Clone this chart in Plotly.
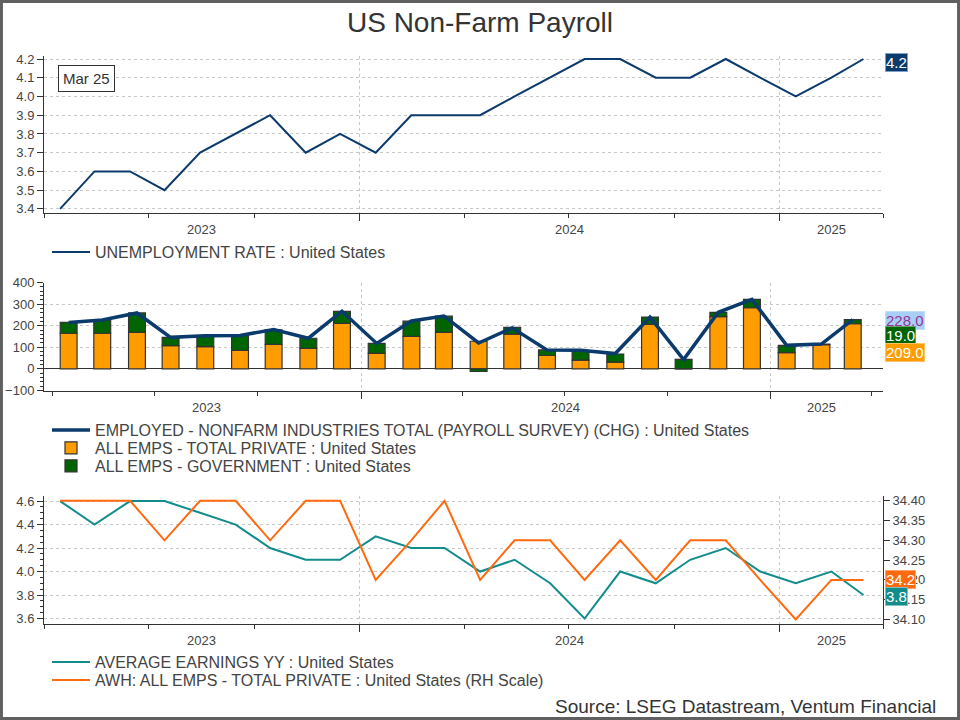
import plotly.graph_objects as go
import pandas as pd

# --- data (monthly, Apr 2023 - Mar 2025, plotted mid-month) ---
months = ["2023-04-15", "2023-05-15", "2023-06-15", "2023-07-15", "2023-08-15", "2023-09-15",
          "2023-10-15", "2023-11-15", "2023-12-15", "2024-01-15", "2024-02-15", "2024-03-15",
          "2024-04-15", "2024-05-15", "2024-06-15", "2024-07-15", "2024-08-15", "2024-09-15",
          "2024-10-15", "2024-11-15", "2024-12-15", "2025-01-15", "2025-02-15", "2025-03-15"]

unemployment = [3.4, 3.6, 3.6, 3.5, 3.7, 3.8, 3.9, 3.7, 3.8, 3.7, 3.9, 3.9,
                3.9, 4.0, 4.1, 4.2, 4.2, 4.1, 4.1, 4.2, 4.1, 4.0, 4.1, 4.2]

payroll_total = [215, 226, 259, 146, 154, 155, 182, 142, 267, 118, 222, 245,
                 120, 190, 88, 86, 71, 240, 43, 262, 322, 109, 115, 228]
private = [165, 165, 169, 108, 103, 86, 114, 95, 211, 72, 151, 169,
           128, 161, 62, 41, 31, 207, 0, 242, 283, 75, 112, 209]
government = [50, 61, 90, 38, 51, 69, 67, 47, 55, 46, 70, 75,
              -12, 31, 26, 44, 38, 33, 44, 20, 39, 34, 3, 19]

avg_earnings_yy = [4.6, 4.4, 4.6, 4.6, 4.5, 4.4, 4.2, 4.1, 4.1, 4.3, 4.2, 4.2,
                   4.0, 4.1, 3.9, 3.6, 4.0, 3.9, 4.1, 4.2, 4.0, 3.9, 4.0, 3.8]
avg_weekly_hours = [34.4, 34.4, 34.4, 34.3, 34.4, 34.4, 34.3, 34.4, 34.4, 34.2, 34.3, 34.4,
                    34.2, 34.3, 34.3, 34.2, 34.3, 34.2, 34.3, 34.3, 34.2, 34.1, 34.2, 34.2]

years = [2023, 2024, 2025]
period_start, period_end = "2023-04-01", "2025-04-01"

# --- styling ---
W, H = 960, 720
FONT = "Arial, Liberation Sans, sans-serif"
TXT = "#444444"
AX = "#333333"
GRID = "#c8c8c8"
NAVY = "#0b3a6c"
BAR_ORANGE = "#ff9c00"
BAR_GREEN = "#006400"
TEAL = "#138c8c"
ORANGE = "#ff6a10"


def px_x(px):
    return px / W


def px_y(py):
    return 1 - py / H


X_DOMAIN = [px_x(44), px_x(883)]

fig = go.Figure()

# panel 1: unemployment rate
fig.add_trace(go.Scatter(x=months, y=unemployment, mode="lines", line=dict(color=NAVY, width=2),
                         name="UNEMPLOYMENT RATE : United States", xaxis="x", yaxis="y",
                         legend="legend"))

# panel 2: payrolls (bars first so the line is drawn on top)
fig.add_trace(go.Bar(x=months, y=private, marker=dict(color=BAR_ORANGE, line=dict(color=AX, width=1.2)),
                     width=1.3e9, name="ALL EMPS - TOTAL PRIVATE : United States",
                     xaxis="x2", yaxis="y2", legend="legend3"))
fig.add_trace(go.Bar(x=months, y=government, marker=dict(color=BAR_GREEN, line=dict(color=AX, width=1.2)),
                     width=1.3e9, name="ALL EMPS - GOVERNMENT : United States",
                     xaxis="x2", yaxis="y2", legend="legend4"))
fig.add_trace(go.Scatter(x=months, y=payroll_total, mode="lines", line=dict(color=NAVY, width=3.5),
                         name="EMPLOYED - NONFARM INDUSTRIES TOTAL (PAYROLL SURVEY) (CHG) : United States",
                         xaxis="x2", yaxis="y2", legend="legend2"))

# panel 3: earnings and hours
fig.add_trace(go.Scatter(x=months, y=avg_earnings_yy, mode="lines", line=dict(color=TEAL, width=2),
                         name="AVERAGE EARNINGS YY : United States", xaxis="x3", yaxis="y3",
                         legend="legend5"))
fig.add_trace(go.Scatter(x=months, y=avg_weekly_hours, mode="lines", line=dict(color=ORANGE, width=2),
                         name="AWH: ALL EMPS - TOTAL PRIVATE : United States (RH Scale)",
                         xaxis="x3", yaxis="y6", legend="legend6"))


def x_axis(anchor, rng):
    return dict(domain=X_DOMAIN, anchor=anchor, type="date", range=rng, automargin=False,
                showline=True, linecolor=AX, linewidth=1,
                ticks="outside", ticklen=7, tickcolor=AX, tick0="2024-01-01", dtick="M12",
                showticklabels=False, showgrid=True, gridcolor=GRID, griddash="dot", gridwidth=1,
                minor=dict(ticks="outside", ticklen=4, tickcolor=AX, dtick="M3", tick0="2023-01-01",
                           showgrid=False),
                zeroline=False, fixedrange=True)


def y_axis(top, bottom, rng, dtick, tick0, fmt, side="left", grid=True, minor=None, **kw):
    d = dict(domain=[px_y(bottom), px_y(top)], range=rng, dtick=dtick, tick0=tick0, automargin=False,
             tickformat=fmt, side=side, showline=True, linecolor=AX, linewidth=1,
             ticks="outside", ticklen=6, tickcolor=AX,
             tickfont=dict(family=FONT, size=13, color=TXT),
             showgrid=grid, gridcolor=GRID, griddash="dot", gridwidth=1,
             zeroline=False, fixedrange=True)
    if minor:
        d["minor"] = dict(ticks="outside", ticklen=3, tickcolor=AX, dtick=minor, showgrid=False)
    d.update(kw)
    return d


P1 = (56, 213)
P2 = (282.5, 390.5)
P3 = (496, 623.7)

fig.update_layout(
    width=W, height=H,
    margin=dict(l=0, r=0, t=0, b=0, autoexpand=False),
    paper_bgcolor="white", plot_bgcolor="white",
    font=dict(family=FONT, color=TXT),
    barmode="relative", bargap=0.5,
    showlegend=True,
    title=dict(text="US Non-Farm Payroll", x=0.5, xanchor="center", y=px_y(22), yanchor="middle",
               font=dict(family=FONT, size=28, color="#333333")),
    xaxis=x_axis("y", [period_start, period_end]),
    xaxis2=x_axis("y2", ["2023-03-24", "2025-04-11"]),
    xaxis3=x_axis("y3", [period_start, period_end]),
    yaxis=y_axis(*P1, [3.378, 4.216], 0.1, 3.4, ".1f", anchor="x"),
    yaxis4=y_axis(*P1, [3.378, 4.216], 0.1, 3.4, ".1f", side="right", grid=False,
                  anchor="x", overlaying="y"),
    yaxis2=y_axis(*P2, [-100, 400], 100, 0, "d", minor=20, anchor="x2",
                  zeroline=True, zerolinecolor=AX, zerolinewidth=1),
    yaxis5=y_axis(*P2, [-100, 400], 100, 0, "d", side="right", grid=False, minor=20,
                  anchor="x2", overlaying="y2"),
    yaxis3=y_axis(*P3, [3.556, 4.643], 0.2, 3.6, ".1f", minor=0.05, anchor="x3"),
    yaxis6=y_axis(*P3, [34.0894, 34.412], 0.05, 34.1, ".2f", side="right", grid=False,
                  anchor="x3", overlaying="y3"),
)

# one legend per entry so each row sits where the reference puts it
legend_rows = {"legend": 252, "legend2": 430, "legend3": 448, "legend4": 466,
               "legend5": 662, "legend6": 680}
for key, row in legend_rows.items():
    fig.update_layout({key: dict(x=px_x(47), xanchor="left", y=px_y(row), yanchor="middle",
                                 itemwidth=38, bgcolor="rgba(0,0,0,0)", borderwidth=0,
                                 itemclick=False, font=dict(family=FONT, size=16, color=TXT))})

annotations = []

# year labels, centred on the visible part of each year
label_rows = {"x": 230, "x2": 407, "x3": 640}
for year in years:
    a = max(pd.Timestamp(f"{year}-01-01"), pd.Timestamp(period_start))
    b = min(pd.Timestamp(f"{year + 1}-01-01"), pd.Timestamp(period_end))
    mid = (a + (b - a) / 2).strftime("%Y-%m-%d")
    for xref, row in label_rows.items():
        annotations.append(dict(x=mid, xref=xref, y=px_y(row), yref="paper", yanchor="middle",
                                xanchor="center", text=str(year), showarrow=False,
                                font=dict(family=FONT, size=13, color=TXT)))

# date box
annotations.append(dict(x=px_x(86), y=px_y(78), xref="paper", yref="paper", xanchor="center",
                        yanchor="middle", text="Mar 25", showarrow=False, bgcolor="white",
                        bordercolor=AX, borderwidth=1, borderpad=4,
                        font=dict(family=FONT, size=15, color="#333333")))


def last_label(value, yref, bg, border, fg, yshift=0):
    return dict(x=px_x(885), xref="paper", xanchor="left", y=value, yref=yref, yanchor="middle",
                yshift=yshift, text=f"{value:.1f}", showarrow=False, bgcolor=bg,
                bordercolor=border, borderwidth=1, borderpad=0,
                font=dict(family=FONT, size=15, color=fg))


annotations += [
    last_label(unemployment[-1], "y", NAVY, "#7fa3c8", "white", -4),
    last_label(float(payroll_total[-1]), "y2", "#a8cff5", "#c6e0fa", "#993399", -1),
    last_label(float(government[-1]), "y2", BAR_GREEN, "#66a366", "white", 29),
    last_label(float(private[-1]), "y2", BAR_ORANGE, "#ffc266", "white", -29),
    last_label(avg_weekly_hours[-1], "y6", ORANGE, "#ffa366", "white", 0),
    last_label(avg_earnings_yy[-1], "y3", TEAL, "#7fc0c0", "white", -1),
]

annotations.append(dict(x=px_x(938), xanchor="right", y=px_y(706), yanchor="middle",
                        xref="paper", yref="paper", text="Source: LSEG Datastream, Ventum Financial",
                        showarrow=False, font=dict(family=FONT, size=19, color="#333333")))

fig.update_layout(annotations=annotations)

# outer frame
fig.add_shape(type="rect", xref="paper", yref="paper", x0=0.0015, x1=0.9985, y0=0.002, y1=0.998,
              line=dict(color="#606060", width=3), fillcolor="rgba(0,0,0,0)", layer="above")

# drop the page's default body margin so the figure sits at the window's corner
fig.write_html("out.html", config={"displayModeBar": False},
               post_script="document.body.style.margin = '0';")
